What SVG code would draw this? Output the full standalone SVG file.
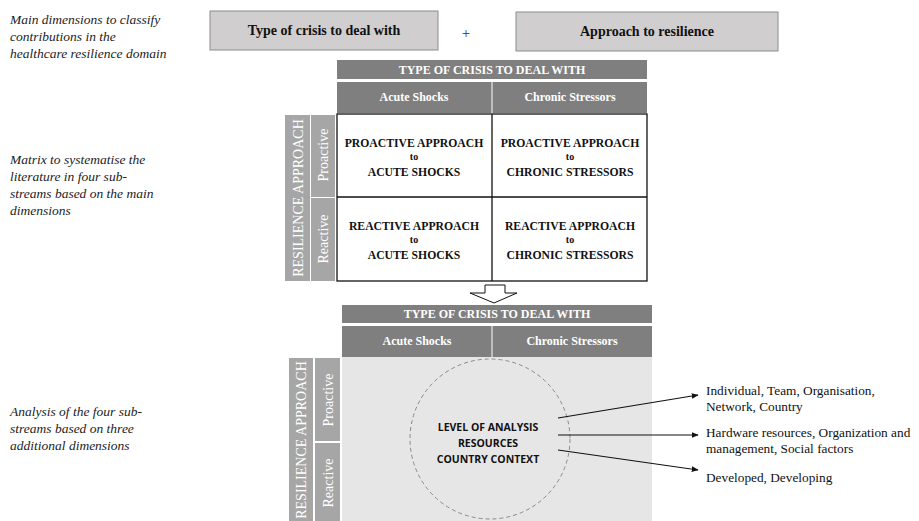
<svg xmlns="http://www.w3.org/2000/svg" width="919" height="521" viewBox="0 0 919 521">
<defs>
<style>
.note{font-family:"Liberation Serif",serif;font-style:italic;font-size:13.5px;fill:#222}
.title{font-family:"Liberation Serif",serif;font-weight:bold;font-size:14px;fill:#111;text-anchor:middle}
.topbox{fill:#d0cece;stroke:#8c8c8c;stroke-width:1}
.hdr{fill:#7f7f7f}
.hdrt{font-family:"Liberation Serif",serif;font-weight:bold;font-size:12px;fill:#fff;text-anchor:middle}
.band{fill:#a6a6a6}
.bandt{font-family:"Liberation Serif",serif;font-size:14px;fill:#fff;text-anchor:middle}
.cell{fill:#fff;stroke:#111;stroke-width:1.3}
.cellt{font-family:"Liberation Serif",serif;font-weight:bold;font-size:11.7px;fill:#111;text-anchor:middle}
.small{font-family:"Liberation Serif",serif;font-weight:bold;font-size:10px;fill:#111;text-anchor:middle}
.circt{font-family:"Open Sans","Liberation Sans",sans-serif;font-weight:bold;font-size:10.5px;fill:#111;text-anchor:middle}
.right{font-family:"Liberation Serif",serif;font-size:13.3px;fill:#111}
.conn{stroke:#111;stroke-width:1.2;fill:none;marker-end:url(#ah)}
</style>
<marker id="ah" viewBox="0 0 10 10" refX="9" refY="5" markerWidth="7" markerHeight="7" markerUnits="userSpaceOnUse" orient="auto">
<path d="M0,1 L10,5 L0,9 z" fill="#111"/>
</marker>
</defs>
<rect width="919" height="521" fill="#fff"/>

<g id="notes">
<text class="note" x="10" y="24">Main dimensions to classify</text>
<text class="note" x="10" y="41">contributions in the</text>
<text class="note" x="10" y="58">healthcare resilience domain</text>
<text class="note" x="10" y="164">Matrix to systematise the</text>
<text class="note" x="10" y="181">literature in four sub-</text>
<text class="note" x="10" y="198">streams based on the main</text>
<text class="note" x="10" y="215">dimensions</text>
<text class="note" x="10" y="416">Analysis of the four sub-</text>
<text class="note" x="10" y="433">streams based on three</text>
<text class="note" x="10" y="450">additional dimensions</text>
</g>

<g id="box-type">
<rect class="topbox" x="210" y="11" width="228" height="39"/>
<text class="title" x="324" y="35">Type of crisis to deal with</text>
</g>
<g id="plus">
<text x="466" y="38" font-family="'Liberation Serif',serif" font-size="15" fill="#333" text-anchor="middle">+</text>
</g>
<g id="box-approach">
<rect class="topbox" x="516" y="12" width="262" height="39"/>
<text class="title" x="647" y="36">Approach to resilience</text>
</g>

<g id="matrix1">
<rect class="hdr" x="337" y="60" width="310" height="19"/>
<text class="hdrt" x="492" y="74">TYPE OF CRISIS TO DEAL WITH</text>
<rect class="hdr" x="337" y="82" width="154.5" height="31"/>
<rect class="hdr" x="492.5" y="82" width="154.5" height="31"/>
<text class="hdrt" x="414" y="101">Acute Shocks</text>
<text class="hdrt" x="570" y="101">Chronic Stressors</text>
<rect class="band" x="285" y="115" width="25" height="166"/>
<rect class="band" x="311" y="115" width="24" height="82"/>
<rect class="band" x="311" y="198" width="24" height="83"/>
<text class="bandt" transform="translate(302.5,198) rotate(-90)">RESILIENCE APPROACH</text>
<text class="bandt" transform="translate(328,155) rotate(-90)">Proactive</text>
<text class="bandt" transform="translate(328,239) rotate(-90)">Reactive</text>
<rect class="cell" x="337" y="114" width="310" height="167"/>
<line x1="492" y1="114" x2="492" y2="281" stroke="#111" stroke-width="1.3"/>
<line x1="337" y1="197" x2="647" y2="197" stroke="#111" stroke-width="1.3"/>
<text class="cellt" x="414" y="147">PROACTIVE APPROACH</text>
<text class="small" x="414" y="160">to</text>
<text class="cellt" x="414" y="176">ACUTE SHOCKS</text>
<text class="cellt" x="570" y="147">PROACTIVE APPROACH</text>
<text class="small" x="570" y="160">to</text>
<text class="cellt" x="570" y="176">CHRONIC STRESSORS</text>
<text class="cellt" x="414" y="230">REACTIVE APPROACH</text>
<text class="small" x="414" y="243">to</text>
<text class="cellt" x="414" y="259">ACUTE SHOCKS</text>
<text class="cellt" x="570" y="230">REACTIVE APPROACH</text>
<text class="small" x="570" y="243">to</text>
<text class="cellt" x="570" y="259">CHRONIC STRESSORS</text>
</g>

<g id="down-arrow">
<polygon points="485,285 505,285 505,293 517,293 494,303 470,293 485,293" fill="#fff" stroke="#111" stroke-width="1"/>
</g>

<g id="matrix2">
<rect class="hdr" x="342" y="305" width="310" height="18"/>
<text class="hdrt" x="497" y="318">TYPE OF CRISIS TO DEAL WITH</text>
<rect class="hdr" x="342" y="326" width="149.5" height="31"/>
<rect class="hdr" x="492.5" y="326" width="159.5" height="31"/>
<text class="hdrt" x="417" y="345">Acute Shocks</text>
<text class="hdrt" x="572" y="345">Chronic Stressors</text>
<rect class="band" x="289" y="358" width="24" height="163"/>
<rect class="band" x="315" y="358" width="25" height="83"/>
<rect class="band" x="315" y="443" width="25" height="78"/>
<text class="bandt" transform="translate(306,440) rotate(-90)">RESILIENCE APPROACH</text>
<text class="bandt" transform="translate(332.5,400) rotate(-90)">Proactive</text>
<text class="bandt" transform="translate(332.5,483) rotate(-90)">Reactive</text>
<rect x="342" y="357" width="310" height="164" fill="#e7e6e6"/>
</g>

<g id="circle">
<circle cx="490" cy="439" r="80" fill="none" stroke="#8a8a8a" stroke-width="1" stroke-dasharray="4 3"/>
<text class="circt" x="488" y="431">LEVEL OF ANALYSIS</text>
<text class="circt" x="488" y="447">RESOURCES</text>
<text class="circt" x="488" y="463">COUNTRY CONTEXT</text>
</g>

<g id="connectors">
<line class="conn" x1="558" y1="418" x2="698" y2="395"/>
<line class="conn" x1="558" y1="435" x2="698" y2="435"/>
<line class="conn" x1="558" y1="450" x2="698" y2="470"/>
</g>

<g id="outputs">
<text class="right" x="706" y="395">Individual, Team, Organisation,</text>
<text class="right" x="706" y="411">Network, Country</text>
<text class="right" x="706" y="437">Hardware resources, Organization and</text>
<text class="right" x="706" y="453">management, Social factors</text>
<text class="right" x="706" y="482">Developed, Developing</text>
</g>
</svg>
